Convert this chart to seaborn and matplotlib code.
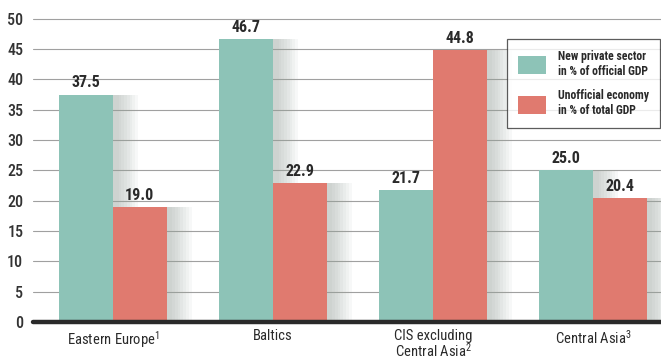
import matplotlib
matplotlib.use("Agg")
import matplotlib.pyplot as plt
import matplotlib.patheffects as pe
import pandas as pd
import seaborn as sns

# Economy structure by region (percent)
regions = ["Eastern Europe$^1$", "Baltics", "CIS excluding\nCentral Asia$^2$", "Central Asia$^3$"]
private_sector = [37.5, 46.7, 21.7, 25.0]
unofficial_economy = [19.0, 22.9, 44.8, 20.4]
series_names = ["New private sector\nin % of official GDP",
                "Unofficial economy\nin % of total GDP"]
y_ticks = [0, 5, 10, 15, 20, 25, 30, 35, 40, 45, 50]

TEAL = "#8dc3b7"
SALMON = "#e07a6f"
INK = "#2a2a2a"

sns.set_style("white")
plt.rcParams["font.family"] = ["Roboto Condensed", "PT Sans Narrow", "DejaVu Sans"]
plt.rcParams["font.stretch"] = "condensed"
plt.rcParams["mathtext.default"] = "regular"

df = pd.DataFrame({
    "region": regions * 2,
    "share": private_sector + unofficial_economy,
    "series": [series_names[0]] * len(regions) + [series_names[1]] * len(regions),
})

fig = plt.figure(figsize=(6.61, 3.63), dpi=100)
ax = fig.add_axes([33 / 661, 41 / 363, 628 / 661, 322 / 363])

sns.barplot(data=df, x="region", y="share", hue="series", order=regions,
            hue_order=series_names, palette=[TEAL, SALMON], saturation=1,
            width=0.67, ax=ax)

# soft drop shadow to the right of each bar
shadow = [pe.SimplePatchShadow(offset=(dx, 0), shadow_rgbFace="#9aa39c", alpha=0.07)
          for dx in range(18, 2, -2)] + [pe.Normal()]
for patch in ax.patches:
    patch.set_path_effects(shadow)
    patch.set_linewidth(0)

for container in ax.containers:
    ax.bar_label(container, fmt="%.1f", padding=3, fontsize=11.5,
                 fontweight="bold", color=INK)

ax.set_xlim(-0.5, 3.425)
ax.set_ylim(0, 53.1)
ax.set_yticks(y_ticks)
ax.set_xlabel("")
ax.set_ylabel("")
ax.yaxis.grid(True, color="#a0a0a0", linewidth=0.8)
ax.set_axisbelow(True)
for side in ["left", "right", "top", "bottom"]:
    ax.spines[side].set_visible(False)
ax.axhline(0, color=INK, linewidth=3.2, clip_on=False, zorder=5)

ax.tick_params(axis="y", length=0, pad=7, labelsize=11.5, labelcolor="#333333")
ax.tick_params(axis="x", length=0, pad=5, labelsize=10.5, labelcolor=INK)
for lbl in ax.get_yticklabels():
    lbl.set_fontweight("medium")
for lbl in ax.get_xticklabels():
    lbl.set_linespacing(0.95)

handles, labels = ax.get_legend_handles_labels()
leg = ax.legend(handles, labels, loc="upper right", bbox_to_anchor=(0.998, 0.879),
                borderaxespad=0, frameon=True, fancybox=False,
                prop={"size": 8.5, "weight": "bold"}, handlelength=2.4,
                handleheight=2.0, handletextpad=1.0, labelspacing=1.0,
                borderpad=0.9)
leg.get_frame().set_edgecolor("#333333")
leg.get_frame().set_linewidth(0.9)
for t in leg.get_texts():
    t.set_color(INK)
for h in leg.legend_handles:
    h.set_path_effects([])

fig.savefig("out.png", dpi=100)
